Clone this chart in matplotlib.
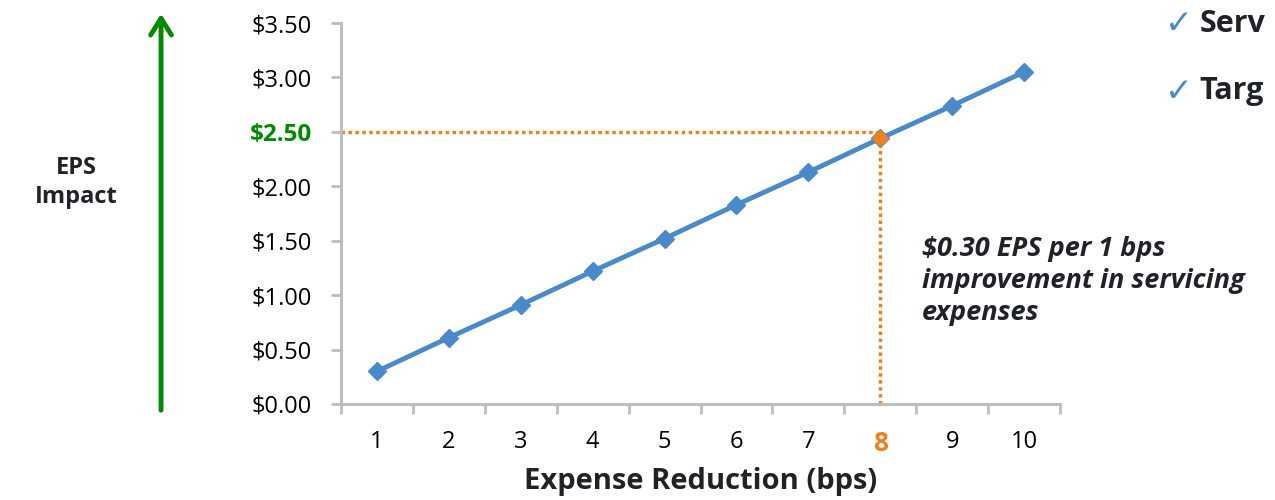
import numpy as np
import matplotlib.pyplot as plt
from matplotlib.patches import FancyArrowPatch

# data
bps = [1, 2, 3, 4, 5, 6, 7, 8, 9, 10]
eps = [0.30, 0.61, 0.91, 1.22, 1.52, 1.83, 2.13, 2.44, 2.74, 3.05]
target_bps = 8
target_eps = 2.50
y_ticks = [0.0, 0.5, 1.0, 1.5, 2.0, 2.5, 3.0, 3.5]
note = "$0.30 EPS per 1 bps\nimprovement in servicing\nexpenses"
bullets = ["Serv", "Targ"]

BLUE = '#4A8ACB'
ORANGE = '#F07F1E'
GREEN = '#008A00'
GREY = '#BDBDBD'
DARK = '#1F2328'

plt.rcParams['font.family'] = ['Open Sans', 'DejaVu Sans']
fig = plt.figure(figsize=(12.75, 5), dpi=100)
ax = fig.add_axes([0.2675, 0.192, 0.5639, 0.762])

x = np.arange(len(bps))
ti = bps.index(target_bps)

# dotted guide lines to the target point
ax.plot([-0.5, x[ti]], [target_eps, target_eps], ls=(0, (1, 1)), color=ORANGE, lw=2.5, zorder=2)
ax.plot([x[ti], x[ti]], [0, eps[ti]], ls=(0, (1, 1)), color=ORANGE, lw=2.5, zorder=2)

ax.plot(x, eps, color=BLUE, lw=3.5, marker='D', ms=9, mfc=BLUE, mec=BLUE, zorder=3)
ax.plot(x[ti], eps[ti], marker='D', ms=8, color=ORANGE, ls='none', zorder=4)

ax.set_xlim(-0.5, len(bps) - 0.5)
ax.set_ylim(0, 3.5)

# axes styling
for s in ['top', 'right']:
    ax.spines[s].set_visible(False)
for s in ['left', 'bottom']:
    ax.spines[s].set_color(GREY)
    ax.spines[s].set_linewidth(2.2)

ax.set_yticks(y_ticks)
ylabels = ax.set_yticklabels([f"${v:.2f}" for v in y_ticks], fontsize=17)
for v, lab in zip(y_ticks, ylabels):
    if abs(v - target_eps) < 1e-9:
        lab.set_color(GREEN)
        lab.set_fontweight('bold')
        lab.set_fontsize(17.5)
ax.tick_params(axis='y', length=7, width=2, color=GREY, pad=14)

# category ticks sit on the boundaries, labels at centers
ax.set_xticks(np.arange(-0.5, len(bps)), minor=False)
ax.set_xticklabels([])
ax.set_xticks(x, minor=True)
xlabels = ax.set_xticklabels([str(b) for b in bps], minor=True, fontsize=17)
for b, lab in zip(bps, xlabels):
    if b == target_bps:
        lab.set_color(ORANGE)
        lab.set_fontweight('bold')
        lab.set_fontsize(19)
ax.tick_params(axis='x', which='major', length=7, width=2, color=GREY)
ax.tick_params(axis='x', which='minor', length=0, pad=19)

ax.set_xlabel("Expense Reduction (bps)", fontsize=21, fontweight='bold', color=DARK, labelpad=7)

# left label and green arrow
fig.text(0.060, 0.635, "EPS\nImpact", ha='center', va='center', fontsize=17,
         fontweight='bold', color=DARK, linespacing=1.3)
arrow = FancyArrowPatch((0.1263, 0.174), (0.1263, 0.978), transform=fig.transFigure,
                        arrowstyle='->,head_length=8,head_width=5', color=GREEN, lw=3.5,
                        mutation_scale=1.5)
fig.patches.append(arrow)

# annotation
fig.text(0.723, 0.437, note, ha='left', va='center', fontsize=19.5, fontweight='bold',
         style='italic', color=DARK, linespacing=1.3)

# clipped bullet list at the right edge
for i, b in enumerate(bullets):
    yy = 0.952 - i * 0.135
    fig.text(0.914, yy, "\u2713", ha='left', va='center', fontsize=24, color=BLUE,
             family=['DejaVu Sans'])
    fig.text(0.941, yy, b, ha='left', va='center', fontsize=22, fontweight='bold', color=DARK)

fig.savefig('out.png', dpi=100)
